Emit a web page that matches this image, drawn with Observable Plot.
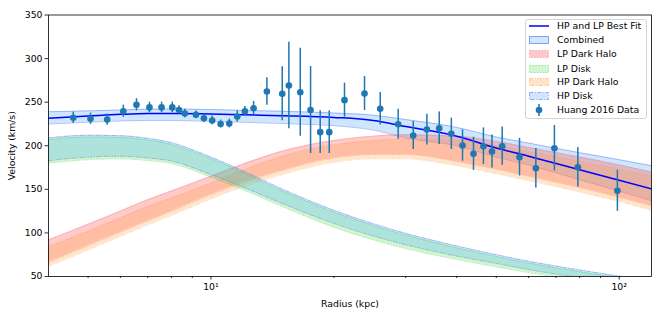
<!DOCTYPE html>
<html><head><meta charset="utf-8">
<script src="https://cdn.jsdelivr.net/npm/d3@7"></script>
<script src="https://cdn.jsdelivr.net/npm/@observablehq/plot@0.6"></script>
<style>
body{margin:0;background:#fff;}
#wrap{position:relative;width:664px;height:319px;font-family:"DejaVu Sans",sans-serif;}
#legend{position:absolute;left:525px;top:19px;width:122px;height:100px;box-sizing:border-box;border:1px solid #d4d4d4;border-radius:3px;background:rgba(255,255,255,0.8);font-size:9.3px;color:#000;}
.row{position:absolute;left:0;height:14px;width:120px;}
.row svg{position:absolute;left:3px;top:0;}
.row span{position:absolute;left:31px;top:0;line-height:14px;white-space:nowrap;}
</style></head>
<body><div id="wrap"></div>
<script>
// ---- Data: Huang 2016 rotation curve points ----
const radius = [4.60, 5.07, 5.57, 6.10, 6.57, 7.07, 7.57, 8.04, 8.35, 8.63, 9.19, 9.61, 10.07, 10.56, 11.09, 11.60, 12.11,
  12.72, 13.71, 14.95, 15.52, 16.55, 17.54, 18.52, 19.49, 21.24, 23.78, 25.98,
  28.75, 31.3, 33.8, 36.24, 38.8, 41.33, 43.97, 46.5, 48.8, 51.7,
  57.0, 62.5, 69.4, 79.2, 99.0];
const velocity = [232, 231, 230, 239.6, 247, 244, 244, 244, 241, 237, 235.5, 231.6, 229, 225, 225.5, 233.6, 239.6,
  243, 262.2, 259.6, 269.1, 261.4, 241, 215.6, 215.6, 252.3, 260, 242.4,
  224.7, 211.8, 218.6, 220, 213.7, 200.3, 190.8, 199.5, 193.4, 199.5,
  186.9, 174.2, 197.2, 175.4, 148.3];
const velErr = [6.5, 6.5, 6.5, 7, 7, 6, 6, 6, 5, 5, 4.5, 4.5, 5, 4.5, 5, 6.5, 5.5,
  7.8, 15.7, 31, 49.7, 50.5, 50, 24.5, 24.5, 19.5, 19.5, 18.7,
  17.2, 16, 17.6, 18.7, 18, 18, 19, 21, 19, 22,
  21.6, 22.6, 26, 22.6, 23.5];

// ---- Model curves ----
const curveR   = [4, 5, 6, 7, 8, 10, 12, 15, 20, 25, 30, 40, 50, 60, 80, 100, 120];
const fitV     = [231.5, 234, 236, 237, 237, 236.5, 235.5, 234.5, 232.5, 229, 222, 211, 197.5, 188, 172.5, 160.5, 150.5];
const combLo   = [225, 227, 228.5, 229, 229, 228, 227, 225.5, 223, 218, 209, 200, 187, 178, 161, 148, 137];
const combHi   = [239, 240, 241, 242, 242, 241.5, 240.5, 239.5, 237.5, 235, 230, 221, 210, 203, 192, 184, 177];
const lpHaloLo = [66.5, 85.5, 101, 114, 125, 144, 158, 172, 186, 190, 190, 182, 173, 165, 152, 141, 131];
const lpHaloHi = [92, 110, 125, 138, 148, 165, 179, 194, 206, 211, 212.5, 211, 205, 198, 187, 178, 170];
const hpHaloLo = [61.5, 80.5, 96, 109, 120, 139, 153, 167, 181, 185, 185, 177, 168, 160, 147, 136, 126];
const hpHaloHi = [84, 102, 117, 130, 140, 157, 172, 188, 201, 206, 207.5, 206, 200, 193, 182, 173, 165];
const lpDiskLo = [180, 184, 185, 183, 179.5, 164, 149.5, 130, 106.5, 92, 82, 69.5, 61, 54.5, 45.5, 40, 36];
const lpDiskHi = [207, 210, 209.5, 206.5, 201.5, 185, 169, 148, 124, 108.5, 97.5, 83, 73, 65.5, 55.5, 49, 44.5];
const hpDiskLo = [183, 187, 188, 186, 182.5, 167, 152.5, 133.5, 111, 96.5, 86.5, 73.5, 65, 58, 49, 43, 39];
const hpDiskHi = [209, 212, 211.5, 208.5, 203.5, 187, 171, 150, 126, 110.5, 99.5, 85, 75, 67.5, 57.5, 50.5, 46];

// ---- Ticks ----
const yTicks = [50, 100, 150, 200, 250, 300, 350];
const xMajor = [10, 100];
const xMajorLabels = ["10¹", "10²"];
const xMinor = [5, 6, 7, 8, 9, 20, 30, 40, 50, 60, 70, 80, 90];

const points = radius.map((r, i) => ({r, v: velocity[i], lo: velocity[i] - velErr[i], hi: velocity[i] + velErr[i]}));
const curve = curveR.map((r, i) => ({r, fit: fitV[i], combLo: combLo[i], combHi: combHi[i],
  lpHaloLo: lpHaloLo[i], lpHaloHi: lpHaloHi[i], hpHaloLo: hpHaloLo[i], hpHaloHi: hpHaloHi[i],
  lpDiskLo: lpDiskLo[i], lpDiskHi: lpDiskHi[i], hpDiskLo: hpDiskLo[i], hpDiskHi: hpDiskHi[i]}));

function band(lo, hi, fill, op, stroke, sop, dash) {
  return [
    Plot.areaY(curve, {x: "r", y1: lo, y2: hi, fill, fillOpacity: op, curve: "monotone-x", clip: true}),
    Plot.line(curve, {x: "r", y: lo, stroke, strokeOpacity: sop, strokeWidth: 1, strokeDasharray: dash, curve: "monotone-x", clip: true}),
    Plot.line(curve, {x: "r", y: hi, stroke, strokeOpacity: sop, strokeWidth: 1, strokeDasharray: dash, curve: "monotone-x", clip: true})
  ];
}

const chart = Plot.plot({
  width: 664, height: 319,
  marginLeft: 48, marginRight: 13, marginTop: 14.5, marginBottom: 43,
  style: {fontFamily: "DejaVu Sans", fontSize: "9.3px", color: "#000", background: "white"},
  x: {type: "log", domain: [4, 120]},
  y: {domain: [50, 350]},
  marks: [
    band("combLo", "combHi", "#1e90ff", 0.22, "#5a78e6", 0.45, null),
    band("lpHaloLo", "lpHaloHi", "#ff4040", 0.28, "#ff6060", 0.35, "1.5,1.5"),
    band("hpHaloLo", "hpHaloHi", "#ffa040", 0.28, "#ffa060", 0.35, "4,1.5,1,1.5"),
    band("lpDiskLo", "lpDiskHi", "#40e040", 0.25, "#40c040", 0.35, "1.5,1.5"),
    band("hpDiskLo", "hpDiskHi", "#4da6ff", 0.25, "#5070e0", 0.45, "4,1.5,1,1.5"),
    Plot.line(curve, {x: "r", y: "fit", stroke: "#0000ff", strokeWidth: 1.5, curve: "monotone-x", clip: true}),
    Plot.ruleX(points, {x: "r", y1: "lo", y2: "hi", stroke: "#1f77b4", strokeWidth: 1.5}),
    Plot.dot(points, {x: "r", y: "v", r: 3.3, fill: "#1f77b4", stroke: null}),
    Plot.axisX(xMinor, {tickSize: 2, strokeWidth: 0.8, tickFormat: () => "", label: null}),
    Plot.axisX(xMajor, {tickSize: 3.5, strokeWidth: 0.8, tickPadding: 3, tickFormat: d => xMajorLabels[xMajor.indexOf(d)],
      label: "Radius (kpc)", labelAnchor: "center", labelArrow: "none", labelOffset: 30}),
    Plot.axisY(yTicks, {tickSize: 3.5, strokeWidth: 0.8, tickPadding: 2.5,
      label: "Velocity (km/s)", labelAnchor: "center", labelArrow: "none", labelOffset: 40}),
    Plot.frame({stroke: "#000", strokeWidth: 0.8})
  ]
});

const wrap = document.getElementById("wrap");
wrap.appendChild(chart);

// ---- Legend ----
const legendItems = [
  {label: "HP and LP Best Fit", kind: "line"},
  {label: "Combined", kind: "patch", fill: "#cee7ff", stroke: "#8aa0ea", dash: ""},
  {label: "LP Dark Halo", kind: "patch", fill: "#ffc8c8", stroke: "#ffa8a8", dash: "1.5,1.5"},
  {label: "LP Disk", kind: "patch", fill: "#cdf7cd", stroke: "#9ee09e", dash: "1.5,1.5"},
  {label: "HP Dark Halo", kind: "patch", fill: "#ffe4c8", stroke: "#ffc89a", dash: "4,1.5,1,1.5"},
  {label: "HP Disk", kind: "patch", fill: "#cfe6ff", stroke: "#9aaaf0", dash: "4,1.5,1,1.5"},
  {label: "Huang 2016 Data", kind: "point"}
];
const rowCenters = [7, 21.3, 35.3, 49.5, 63.3, 77.3, 91];
const legend = document.createElement("div");
legend.id = "legend";
legendItems.forEach((it, i) => {
  const row = document.createElement("div");
  row.className = "row";
  row.style.top = (rowCenters[i] - 7 - 1) + "px";
  let sw = "";
  if (it.kind === "line") sw = `<line x1="0" x2="20" y1="7" y2="7" stroke="#0000ff" stroke-width="1.5"/>`;
  else if (it.kind === "patch") sw = `<rect x="0.5" y="3.5" width="19" height="7" fill="${it.fill}" stroke="${it.stroke}" stroke-width="1" ${it.dash ? `stroke-dasharray="${it.dash}"` : ""}/>`;
  else sw = `<line x1="10" x2="10" y1="1" y2="13" stroke="#1f77b4" stroke-width="1.5"/><circle cx="10" cy="7" r="3.3" fill="#1f77b4"/>`;
  row.innerHTML = `<svg width="22" height="14">${sw}</svg><span>${it.label}</span>`;
  legend.appendChild(row);
});
wrap.appendChild(legend);
</script>
</body></html>
